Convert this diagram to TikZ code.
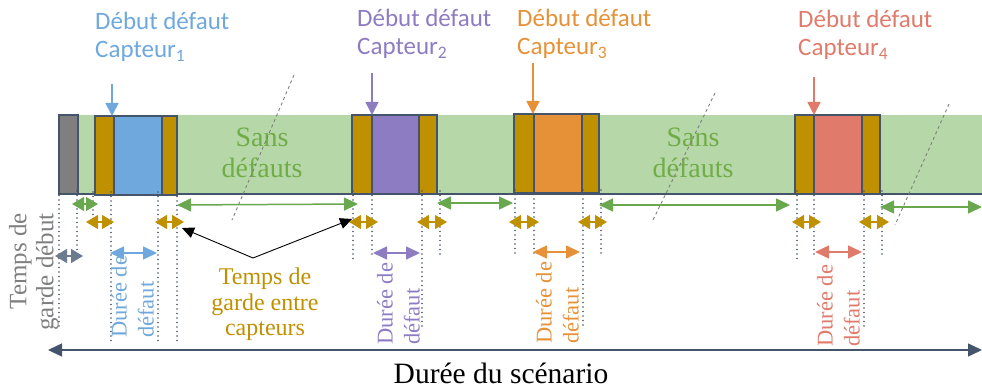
\documentclass[tikz,border=0pt]{standalone}
\usepackage{fontspec}
\setmainfont{Liberation Serif}
\newfontfamily\lblfont{Carlito}
\usetikzlibrary{arrows.meta}
\definecolor{gold}{HTML}{BF9000}
\definecolor{bandgreen}{HTML}{B6D7A8}
\definecolor{arrgreen}{HTML}{6AA84F}
\definecolor{txtgreen}{HTML}{70AD47}
\definecolor{cA}{HTML}{6FA8DC}
\definecolor{cB}{HTML}{8E7CC3}
\definecolor{cC}{HTML}{E69138}
\definecolor{cD}{HTML}{E07B6B}
\definecolor{edgec}{HTML}{44546A}
\definecolor{grayblk}{HTML}{7F7F7F}
\definecolor{slate}{HTML}{6B7A8F}
\begin{document}
\begin{tikzpicture}[x=1pt,y=-1pt,
  blk/.style={draw=edgec, line width=1.2pt, inner sep=0pt, outer sep=0pt, anchor=north west, minimum height=79pt},
  dotline/.style={edgec, line width=1.9pt, line cap=round, dash pattern=on 0pt off 4.5pt},
  dimarr/.style={line width=1.5pt, {Triangle[length=12pt,width=14pt]}-{Triangle[length=12pt,width=14pt]}},
  longarr/.style={line width=1.5pt, {Triangle[length=14pt,width=13pt]}-{Triangle[length=14pt,width=13pt]}},
  toparr/.style={line width=1.6pt, {Triangle[length=13pt,width=13pt]}-},
  lbl/.style={font=\lblfont\fontsize{25}{28}\selectfont, align=left, inner sep=0pt, anchor=north west},
  rot/.style={font=\fontsize{22.5}{27}\selectfont, rotate=90, inner sep=0pt, align=left, anchor=south west},
  breakline/.style={grayblk, dashed, line width=0.9pt}
]
\useasboundingbox (0,0) rectangle (982,390);

% band
\node[fill=bandgreen, inner sep=0pt, outer sep=0pt, anchor=north west, minimum width=924pt, minimum height=79pt] (band) at (58,115) {};
\draw[edgec, line width=1.4pt] (band.south west) -- (band.south east);

% text in band
\node[text=txtgreen, font=\fontsize{28}{31}\selectfont, align=center, inner sep=0pt, anchor=north] (sd1) at (262,128) {Sans\\défauts};
\node[text=txtgreen, font=\fontsize{28}{31}\selectfont, align=center, inner sep=0pt, anchor=north] (sd2) at (693,128) {Sans\\défauts};

% blocks
\node[blk, fill=grayblk, minimum width=19pt] (g0) at (59,115) {};
\node[blk, fill=gold, minimum width=19pt] (g1l) at (95,116) {};
\node[blk, fill=cA, minimum width=48pt] (d1) at (114,116) {};
\node[blk, fill=gold, minimum width=15pt] (g1r) at (162,116) {};
\node[blk, fill=gold, minimum width=20pt] (g2l) at (352,115) {};
\node[blk, fill=cB, minimum width=47pt] (d2) at (372,115) {};
\node[blk, fill=gold, minimum width=18pt] (g2r) at (419,115) {};
\node[blk, fill=gold, minimum width=20pt] (g3l) at (514,114) {};
\node[blk, fill=cC, minimum width=48pt] (d3) at (534,114) {};
\node[blk, fill=gold, minimum width=17pt] (g3r) at (582,114) {};
\node[blk, fill=gold, minimum width=19pt] (g4l) at (795,115) {};
\node[blk, fill=cD, minimum width=48pt] (d4) at (814,115) {};
\node[blk, fill=gold, minimum width=18pt] (g4r) at (862,115) {};

% break lines
\draw[breakline] (294,75) -- (232,220);
\draw[breakline] (715,93) -- (652,222);
\draw[breakline] (949,104) -- (895,225);

% top labels
\node[lbl, text=cA] (l1) at (95,12) {Début défaut\\Capteur\textsubscript{1}};
\node[lbl, text=cB] (l2) at (357,9) {Début défaut\\Capteur\textsubscript{2}};
\node[lbl, text=cC] (l3) at (517,9) {Début défaut\\Capteur\textsubscript{3}};
\node[lbl, text=cD] (l4) at (798,10) {Début défaut\\Capteur\textsubscript{4}};
\draw[toparr, cA] ([xshift=-2pt]d1.north west) -- ++(0,-32);
\draw[toparr, cB] (d2.north west) -- ++(0,-42);
\draw[toparr, cC] ([xshift=-1pt]d3.north west) -- ++(0,-51);
\draw[toparr, cD] (d4.north west) -- ++(0,-38);

% dotted guides
\draw[dotline] ([yshift=3pt]g0.south west) -- ++(0,136);
\draw[dotline] ([yshift=3pt,xshift=-1pt]g0.south east) -- ++(0,70);
\draw[dotline] ([yshift=3pt,xshift=-2pt]g1l.south west) -- ++(0,35);
\draw[dotline] ([yshift=3pt,xshift=-3pt]d1.south west) -- ++(0,152);
\draw[dotline] ([yshift=3pt,xshift=-4pt]d1.south east) -- ++(0,152);
\draw[dotline] ([yshift=3pt]g1r.south east) -- ++(0,152);
\draw[dotline] ([yshift=3pt,xshift=1pt]g2l.south west) -- ++(0,69);
\draw[dotline] ([yshift=3pt]d2.south west) -- ++(0,66);
\draw[dotline] ([yshift=3pt,xshift=3pt]d2.south east) -- ++(0,136);
\draw[dotline] ([yshift=3pt,xshift=3pt]g2r.south east) -- ++(0,66);
\draw[dotline] ([yshift=3pt,xshift=1pt]g3l.south west) -- ++(0,67);
\draw[dotline] ([yshift=3pt]d3.south west) -- ++(0,67);
\draw[dotline] ([yshift=3pt,xshift=1pt]d3.south east) -- ++(0,137);
\draw[dotline] ([yshift=3pt,xshift=2pt]g3r.south east) -- ++(0,67);
\draw[dotline] ([yshift=3pt,xshift=2pt]g4l.south west) -- ++(0,68);
\draw[dotline] ([yshift=3pt]d4.south west) -- ++(0,66);
\draw[dotline] ([yshift=3pt,xshift=2pt]d4.south east) -- ++(0,136);
\draw[dotline] ([yshift=3pt,xshift=2pt]g4r.south east) -- ++(0,66);

% green "sans defauts" spans
\draw[dimarr, arrgreen] (72,204) -- (98,204);
\draw[longarr, arrgreen] (177,205) -- (358,204);
\draw[longarr, arrgreen] (437,203) -- (513,203);
\draw[longarr, arrgreen] (599,205) -- (790,205);
\draw[longarr, arrgreen] (880,207) -- (982,207);

% golden guard spans
\draw[dimarr, gold] (86,222) -- (114,222);
\draw[dimarr, gold] (155,222) -- (184,222);
\draw[dimarr, gold] (349,222) -- (378,222);
\draw[dimarr, gold] (417,222) -- (447,222);
\draw[dimarr, gold] (509,222) -- (539,222);
\draw[dimarr, gold] (578,222) -- (607,222);
\draw[dimarr, gold] (792,222) -- (821,222);
\draw[dimarr, gold] (859,222) -- (889,222);

% defect durations
\draw[dimarr, slate] (55,256) -- (83,256);
\draw[longarr, cA] (110,253) -- (157,253);
\draw[longarr, cB] (373,253) -- (420,253);
\draw[longarr, cC] (533,252) -- (580,252);
\draw[longarr, cD] (815,252) -- (862,252);

% rotated texts
\node[rot, text=grayblk, font=\fontsize{25}{27}\selectfont, align=right, anchor=south east] (tgd) at (59,213) {Temps de\\garde début};
\node[rot, text=cA] (r1) at (154,338) {Durée de\\défaut};
\node[rot, text=cB] (r2) at (420,345) {Durée de\\défaut};
\node[rot, text=cC] (r3) at (579,344) {Durée de\\défaut};
\node[rot, text=cD] (r4) at (860,347) {Durée de\\défaut};

% guard time label with pointers
\node[text=gold, font=\fontsize{24}{25.5}\selectfont, align=center, inner sep=0pt, anchor=north] (tg) at (265,268) {Temps de\\garde entre\\capteurs};
\coordinate (tp) at (253,258);
\coordinate (pa) at (182,228);
\coordinate (pb) at (352,219);
\draw[line width=0.9pt, -{Triangle[length=12pt,width=11pt]}] (tp) -- (pa);
\draw[line width=0.9pt, -{Triangle[length=12pt,width=11pt]}] (tp) -- (pb);

% scenario axis
\coordinate (ax0) at (48,350);
\coordinate (ax1) at (982,350);
\draw[edgec, longarr] (ax0) -- (ax1);
\node[font=\fontsize{29.5}{32}\selectfont, inner sep=0pt, anchor=base] (scen) at (501,383) {Durée du scénario};
\end{tikzpicture}
\end{document}
